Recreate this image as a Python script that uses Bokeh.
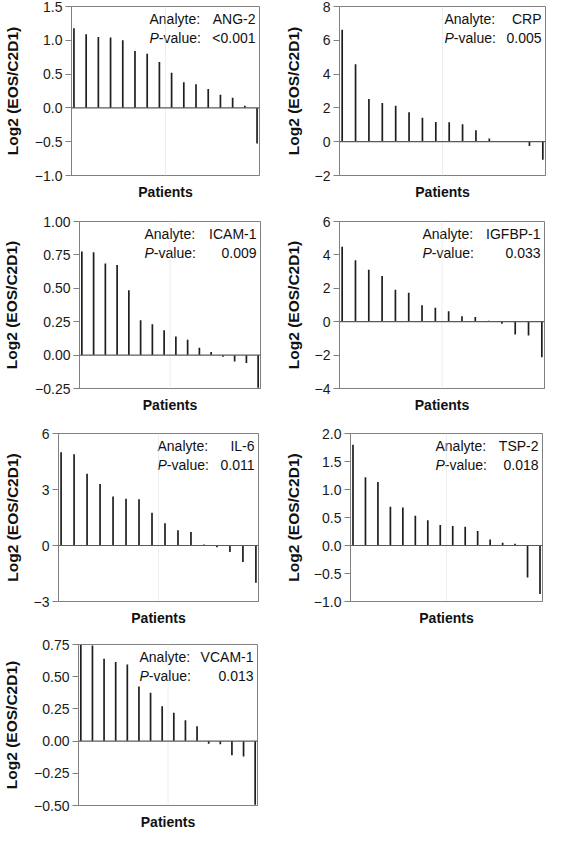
from bokeh.plotting import figure
from bokeh.models import Range1d, FixedTicker, Span
from bokeh.layouts import column, row
from bokeh.embed import file_html
from bokeh.resources import INLINE
from bokeh.core.properties import value

# ---------------- data ----------------
patients = list(range(1, 17))

ang2 = [1.18, 1.09, 1.05, 1.04, 1.00, 0.84, 0.80, 0.68, 0.52, 0.38, 0.35, 0.28, 0.195, 0.15, 0.03, -0.525]
crp = [6.63, 4.59, 2.52, 2.29, 2.13, 1.74, 1.41, 1.16, 1.15, 1.03, 0.68, 0.19, 0.0, 0.0, -0.25, -1.07]
icam1 = [0.775, 0.77, 0.685, 0.675, 0.485, 0.26, 0.23, 0.186, 0.14, 0.115, 0.055, 0.024, -0.012, -0.048, -0.06, -0.245]
igfbp1 = [4.49, 3.68, 3.11, 2.74, 1.91, 1.73, 0.98, 0.83, 0.63, 0.33, 0.28, 0.06, -0.12, -0.77, -0.83, -2.13]
il6 = [5.0, 4.89, 3.84, 3.30, 2.62, 2.50, 2.48, 1.76, 1.19, 0.82, 0.72, 0.05, -0.10, -0.35, -0.89, -2.0]
tsp2 = [1.80, 1.22, 1.135, 0.69, 0.68, 0.53, 0.45, 0.365, 0.35, 0.335, 0.26, 0.106, 0.047, 0.03, -0.57, -0.865]
vcam1 = [0.747, 0.743, 0.64, 0.615, 0.595, 0.423, 0.376, 0.27, 0.22, 0.162, 0.116, -0.02, -0.025, -0.11, -0.12, -0.494]

analytes = ["ANG-2", "CRP", "ICAM-1", "IGFBP-1", "IL-6", "TSP-2", "VCAM-1"]
p_values = ["<0.001", "0.005", "0.009", "0.033", "0.011", "0.018", "0.013"]

ang2_ticks = [-1.0, -0.5, 0.0, 0.5, 1.0, 1.5]
ang2_tick_labels = ["\u22121.0", "\u22120.5", "0.0", "0.5", "1.0", "1.5"]
crp_ticks = [-2, 0, 2, 4, 6, 8]
crp_tick_labels = ["\u22122", "0", "2", "4", "6", "8"]
icam1_ticks = [-0.25, 0.0, 0.25, 0.5, 0.75, 1.0]
icam1_tick_labels = ["\u22120.25", "0.00", "0.25", "0.50", "0.75", "1.00"]
igfbp1_ticks = [-4, -2, 0, 2, 4, 6]
igfbp1_tick_labels = ["\u22124", "\u22122", "0", "2", "4", "6"]
il6_ticks = [-3, 0, 3, 6]
il6_tick_labels = ["\u22123", "0", "3", "6"]
tsp2_ticks = [-1.0, -0.5, 0.0, 0.5, 1.0, 1.5, 2.0]
tsp2_tick_labels = ["\u22121.0", "\u22120.5", "0.0", "0.5", "1.0", "1.5", "2.0"]
vcam1_ticks = [-0.5, -0.25, 0.0, 0.25, 0.5, 0.75]
vcam1_tick_labels = ["\u22120.50", "\u22120.25", "0.00", "0.25", "0.50", "0.75"]

y_label = "Log2 (EOS/C2D1)"
x_label = "Patients"

# ---------------- style / layout ----------------
FONT = "Liberation Sans"
TICK_SIZE = 14
ANNOT_SIZE = 14
YLAB_SIZE = 15.5
XLAB_SIZE = 14
TICK_OUT = 6
TICK_STANDOFF = 3
YLAB_H = 18
X_START, X_END = 0.8, 16.2
GRAY = "#808080"

EM = {"0": .556, "1": .556, "2": .556, "3": .556, "4": .556, "5": .556, "6": .556,
      "7": .556, "8": .556, "9": .556, ".": .278, "\u2212": .584, "-": .333}


def text_w(s, size):
    return sum(EM.get(c, .556) for c in s) * size


panels = [
    dict(vals=ang2, ticks=ang2_ticks, labels=ang2_tick_labels, W=273, H=206,
         left=66, top=6, fw=193, fh=169, lab_off=110, outer=0.5),
    dict(vals=crp, ticks=crp_ticks, labels=crp_tick_labels, W=273, H=206,
         left=66, top=5, fw=206, fh=170, lab_off=101, outer=13),
    dict(vals=icam1, ticks=icam1_ticks, labels=icam1_tick_labels, W=273, H=211,
         left=75, top=12, fw=185, fh=170, lab_off=116, outer=0.5),
    dict(vals=igfbp1, ticks=igfbp1_ticks, labels=igfbp1_tick_labels, W=273, H=211,
         left=66, top=15, fw=205, fh=167, lab_off=122, outer=13),
    dict(vals=il6, ticks=il6_ticks, labels=il6_tick_labels, W=273, H=211,
         left=53, top=16, fw=205, fh=169, lab_off=101, outer=0.5),
    dict(vals=tsp2, ticks=tsp2_ticks, labels=tsp2_tick_labels, W=273, H=211,
         left=77, top=16, fw=192, fh=168, lab_off=107, outer=13),
    dict(vals=vcam1, ticks=vcam1_ticks, labels=vcam1_tick_labels, W=273, H=204,
         left=74, top=16, fw=183, fh=167, lab_off=118, outer=0.5),
]


def make_panel(cfg, analyte, pval):
    ticks = cfg["ticks"]
    p = figure(width=cfg["W"], height=cfg["H"], output_backend="svg",
               toolbar_location=None, tools="",
               x_range=Range1d(X_START, X_END),
               y_range=Range1d(ticks[0], ticks[-1]))
    p.min_border_left = cfg["left"]
    p.min_border_top = cfg["top"]
    p.min_border_right = cfg["W"] - cfg["left"] - cfg["fw"]
    p.min_border_bottom = cfg["H"] - cfg["top"] - cfg["fh"]
    p.background_fill_color = "white"
    p.border_fill_color = "white"
    p.outline_line_color = GRAY
    p.outline_line_width = 1
    p.grid.visible = False

    # y axis
    ya = p.yaxis[0]
    ya.ticker = FixedTicker(ticks=ticks)
    ya.major_label_overrides = dict(zip(ticks, cfg["labels"]))
    ya.minor_tick_line_color = None
    ya.major_tick_in = 0
    ya.major_tick_out = TICK_OUT
    ya.major_tick_line_color = GRAY
    ya.axis_line_color = GRAY
    ya.major_label_standoff = TICK_STANDOFF
    ya.major_label_text_font = FONT
    ya.major_label_text_font_size = f"{TICK_SIZE}px"
    ya.major_label_text_color = "#1a1a1a"
    ya.axis_label = y_label
    ya.axis_label_text_font = FONT
    ya.axis_label_text_font_style = "bold"
    ya.axis_label_text_font_size = f"{YLAB_SIZE}px"
    ya.axis_label_text_color = "#111111"
    wmax = max(text_w(s, TICK_SIZE) for s in cfg["labels"])
    standoff = cfg["left"] - cfg["outer"] - TICK_OUT - TICK_STANDOFF - wmax - YLAB_H
    ya.axis_label_standoff = int(round(max(standoff, 0)))

    # x axis
    xa = p.xaxis[0]
    xa.ticker = FixedTicker(ticks=[])
    xa.major_tick_out = 0
    xa.major_tick_in = 0
    xa.minor_tick_line_color = None
    xa.major_label_standoff = 0
    xa.axis_line_color = GRAY
    xa.axis_label = x_label
    xa.axis_label_text_font = FONT
    xa.axis_label_text_font_style = "bold"
    xa.axis_label_text_font_size = f"{XLAB_SIZE}px"
    xa.axis_label_text_color = "#111111"
    xa.axis_label_standoff = 8

    # middle guide and zero line
    p.add_layout(Span(location=(X_START + X_END) / 2, dimension="height",
                      line_color="#dcdcdc", line_width=1, line_dash="1 1"))
    p.add_layout(Span(location=0, dimension="width", line_color="#5a5a5a",
                      line_width=1.2))

    # bars (needles)
    zeros = [0] * len(patients)
    p.segment(x0=patients, y0=zeros, x1=patients, y1=cfg["vals"],
              line_color="#1e1e1e", line_width=1.7)

    # annotation table
    y_top = ticks[-1]
    common = dict(text_font=value(FONT), text_font_size=f"{ANNOT_SIZE}px",
                  text_color="#111111", text_baseline="middle")
    lo = cfg["lab_off"]
    p.text(x=[X_END], y=[y_top], text=["Analyte:"], x_offset=-lo, y_offset=12,
           text_align="left", **common)
    p.text(x=[X_END], y=[y_top], text=[analyte], x_offset=-4, y_offset=12,
           text_align="right", **common)
    p.text(x=[X_END], y=[y_top], text=["P"], x_offset=-lo, y_offset=31,
           text_align="left", text_font_style="italic", **common)
    p.text(x=[X_END], y=[y_top], text=["-value:"], x_offset=-lo + 0.667 * ANNOT_SIZE,
           y_offset=31, text_align="left", **common)
    p.text(x=[X_END], y=[y_top], text=[pval], x_offset=-4, y_offset=31,
           text_align="right", **common)
    return p


figs = [make_panel(c, a, pv) for c, a, pv in zip(panels, analytes, p_values)]

layout = column(
    row(figs[0], figs[1]),
    row(figs[2], figs[3]),
    row(figs[4], figs[5]),
    row(figs[6]),
)

open("out.html", "w").write(file_html(layout, INLINE))
